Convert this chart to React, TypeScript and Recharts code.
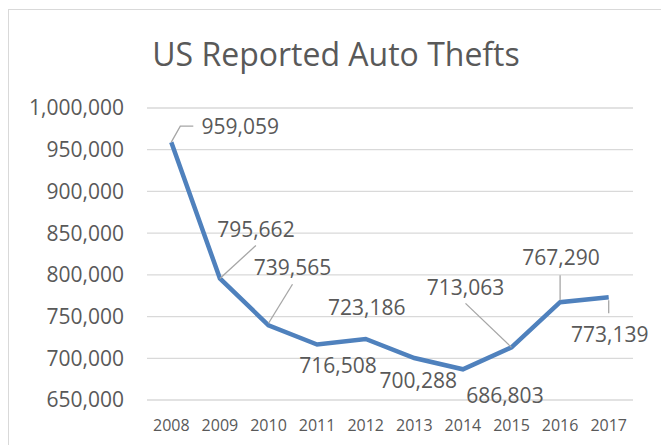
import React from 'react';
import { LineChart, Line, XAxis, YAxis, CartesianGrid, LabelList } from 'recharts';

const years = ['2008', '2009', '2010', '2011', '2012', '2013', '2014', '2015', '2016', '2017'];
const thefts = [959059, 795662, 739565, 716508, 723186, 700288, 686803, 713063, 767290, 773139];
const yTicks = [650000, 700000, 750000, 800000, 850000, 900000, 950000, 1000000];
const title = 'US Reported Auto Thefts';

// label placement relative to each point (layout only)
const labelOffsets: [number, number][] = [
  [69, -16], [36, -49], [24, -58], [21, 21], [1, -31],
  [4, 22], [42, 26], [-46, -60], [1, -45], [1, 37],
];
const leaders: ([number, number][] | null)[] = [
  [[0, 0], [9, -16], [22, -16]],
  [[0, 0], [36, -33]],
  [[0, -2], [24, -41]],
  null,
  null,
  null,
  null,
  [[0, 0], [-46, -44]],
  [[0, -2], [0, -27]],
  [[0, 3], [0, 16]],
];

const data = years.map((y, i) => ({ year: y, value: thefts[i] }));

const FONT = '"Open Sans", sans-serif';
const TEXT = '#595959';

const fmt = (v: number) => v.toLocaleString('en-US');

const DataLabel = (props: any) => {
  const { x, y, index, value } = props;
  const [dx, dy] = labelOffsets[index];
  const lead = leaders[index];
  return (
    <g>
      {lead && (
        <polyline
          points={lead.map(([a, b]) => `${x + a},${y + b}`).join(' ')}
          fill="none"
          stroke="#a6a6a6"
          strokeWidth={1.3}
        />
      )}
      <text
        x={x + dx}
        y={y + dy + 7.5}
        textAnchor="middle"
        fontFamily={FONT}
        fontSize={21}
        fill={TEXT}
      >
        {fmt(Number(value))}
      </text>
    </g>
  );
};

export default function App() {
  return (
    <div style={{ position: 'absolute', left: 0, top: 0, width: 661, height: 445, overflow: 'hidden', background: '#fff' }}>
      <div
        style={{
          position: 'absolute',
          left: 8,
          top: 9,
          width: 700,
          height: 500,
          border: '1.5px solid #d9d9d9',
          boxSizing: 'border-box',
        }}
      />
      <div
        style={{
          position: 'absolute',
          left: 9,
          top: 38,
          width: 654,
          textAlign: 'center',
          fontFamily: FONT,
          fontSize: 32,
          lineHeight: '32px',
          color: TEXT,
          whiteSpace: 'nowrap',
        }}
      >
        {title}
      </div>
      <div style={{ position: 'absolute', left: 0, top: 0 }}>
        <LineChart width={661} height={445} data={data} margin={{ top: 108, right: 28, bottom: 0, left: 0 }}>
          <CartesianGrid vertical={false} stroke="#d9d9d9" strokeWidth={1.3} />
          <XAxis
            dataKey="year"
            scale="band"
            axisLine={false}
            tickLine={false}
            tickSize={0}
            tickMargin={20}
            height={45}
            interval={0}
            tick={{ fontFamily: FONT, fontSize: 16, fill: TEXT }}
          />
          <YAxis
            domain={[650000, 1000000]}
            ticks={yTicks}
            interval={0}
            width={147}
            axisLine={false}
            tickLine={false}
            tickSize={0}
            tickMargin={23}
            tickFormatter={fmt}
            tick={{ fontFamily: FONT, fontSize: 21, fill: TEXT }}
          />
          <Line
            type="linear"
            dataKey="value"
            stroke="#4F81BD"
            strokeWidth={4.5}
            dot={false}
            activeDot={false}
            isAnimationActive={false}
          >
            <LabelList dataKey="value" content={DataLabel} />
          </Line>
        </LineChart>
      </div>
    </div>
  );
}
